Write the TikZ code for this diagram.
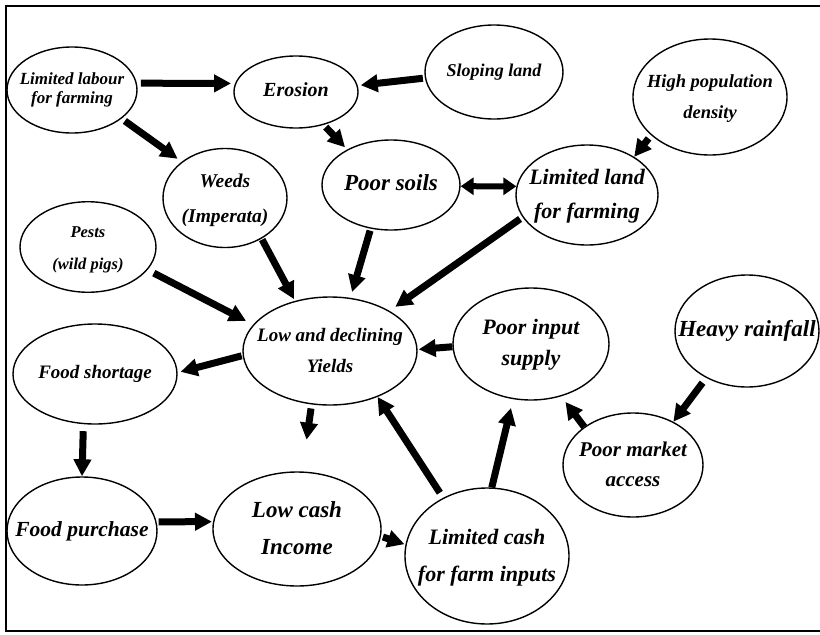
\documentclass[tikz,border=0pt]{standalone}
\usepackage{fontspec}
\setmainfont{Liberation Serif}
\usetikzlibrary{arrows.meta,shapes.geometric}
\newcommand{\fz}[2]{\fontsize{#1}{#2}\selectfont}
\newcommand{\stk}[1]{\makebox[0pt]{\begin{tabular}{@{}c@{}}#1\end{tabular}}}

\begin{document}
\begin{tikzpicture}[
  x=1pt, y=-1pt,
  every node/.style={font=\bfseries\itshape},
  blob/.style={ellipse, draw, line width=1.4pt, inner sep=0pt},
  arr/.style={line width=7pt, -{Triangle[length=17pt, width=17pt]}},
  dbl/.style={line width=6pt, {Triangle[length=13pt, width=17pt]}-{Triangle[length=13pt, width=17pt]}},
  frame/.style={line width=1.6pt}
]
\useasboundingbox (0,0) rectangle (820,635);

%% ==== frame ========================================================
\draw[frame] (820,6) -- (6,6) -- (6,631) -- (820,631);

%% ==== top row ======================================================
\node[blob, minimum width=130pt, minimum height=86pt] (lab) at (72,90)
  {\fz{17}{19}\stk{Limited labour\\for farming}};
\node[blob, minimum width=124pt, minimum height=72pt] (ero) at (296,92)
  {\fz{20}{24}\stk{Erosion}};
\node[blob, minimum width=138pt, minimum height=94pt] (slo) at (494,72)
  {\fz{18}{22}\stk{Sloping land}};
\node[blob, minimum width=154pt, minimum height=116pt] (hpd) at (710,97)
  {\fz{18.5}{31}\stk{High population\\density}};

%% ==== second row ===================================================
\node[blob, minimum width=124pt, minimum height=80pt] (wee) at (225,198)
  {\fz{19.5}{35}\stk{Weeds\\(Imperata)}};
\node[blob, minimum width=138pt, minimum height=90pt] (pso) at (391,185)
  {\fz{23}{27}\stk{Poor soils}};
\node[blob, minimum width=142pt, minimum height=100pt] (lla) at (587,195)
  {\fz{22}{34}\stk{Limited land\\for farming}};
\node[blob, minimum width=136pt, minimum height=86pt] (pes) at (88,247)
  {\fz{16.5}{32}\stk{Pests\\(wild pigs)}};

%% ==== middle row ===================================================
\node[blob, minimum width=174pt, minimum height=108pt] (lyd) at (330,351)
  {\fz{19}{31}\stk{Low and declining\\Yields}};
\node[blob, minimum width=156pt, minimum height=112pt] (pis) at (531,344)
  {\fz{22}{31}\stk{Poor input\\supply}};
\node[blob, minimum width=144pt, minimum height=112pt] (hra) at (747,331)
  {\fz{23}{27}\stk{Heavy rainfall}};
\node[blob, minimum width=164pt, minimum height=100pt] (fsh) at (95,374)
  {\fz{19}{23}\stk{Food shortage}};

%% ==== bottom row ===================================================
\node[blob, minimum width=150pt, minimum height=108pt] (fpu) at (82,531)
  {\fz{21.5}{26}\stk{Food purchase}};
\node[blob, minimum width=168pt, minimum height=114pt] (lci) at (297,529)
  {\fz{23}{37}\stk{Low cash\\Income}};
\node[blob, minimum width=164pt, minimum height=136pt] (lcf) at (487,556)
  {\fz{22}{37}\stk{Limited cash\\for farm inputs}};
\node[blob, minimum width=140pt, minimum height=104pt] (pma) at (633,465)
  {\fz{21}{30}\stk{Poor market\\access}};

%% ==== links ========================================================
\foreach \a/\b/\s/\e in {lab.6/ero.172/4pt/4pt, slo.-175/ero.6/2pt/3pt,
                         lab.-30/wee.140/4pt/5pt, ero.-50/pso.141/3pt/3pt,
                         hpd.-147/lla.39/4pt/0pt, lla.-161/lyd.34/3pt/7pt,
                         wee.-48/lyd.125/1pt/2pt, pso.-115/lyd.69/2pt/6pt,
                         pes.-21/lyd.161/7pt/8pt, lyd.-177/fsh.1/1pt/3pt,
                         pis.-178/lyd.1/0pt/1pt, lyd.-109/lci.85/4pt/32pt,
                         fsh.-103/fpu.90/7pt/0pt, fpu.7/lci.175/2pt/1pt,
                         lci.-5/lcf.172/2pt/1pt, lcf.127/lyd.-44/6pt/0pt,
                         lcf.86/pis.-108/0pt/9pt, pma.142/pis.-60/0pt/7pt,
                         hra.-131/pma.47/6pt/0pt}
  \draw[arr, shorten <=\s, shorten >=\e] (\a) -- (\b);

\draw[dbl] (pso.-1) -- (lla.173);

\end{tikzpicture}
\end{document}
